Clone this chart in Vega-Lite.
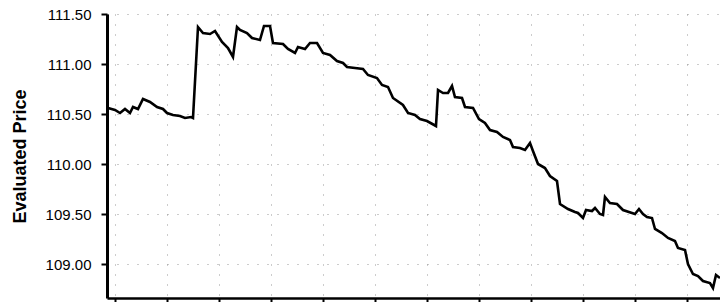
{
  "$schema": "https://vega.github.io/schema/vega-lite/v6.json",
  "autosize": "none",
  "width": 613,
  "height": 284,
  "padding": {"left": 107, "top": 14, "right": 0, "bottom": 4},
  "background": "white",
  "config": {
    "view": {"stroke": null},
    "axis": {"labelFont": "Liberation Sans", "titleFont": "Liberation Sans"}
  },
  "data": {
    "values": [
      {"d": -1.35, "p": 110.56}, {"d": 0, "p": 110.54}, {"d": 0.96, "p": 110.51}, {"d": 1.92, "p": 110.55},
      {"d": 2.88, "p": 110.51}, {"d": 3.46, "p": 110.57}, {"d": 4.42, "p": 110.55}, {"d": 5.38, "p": 110.65},
      {"d": 6.73, "p": 110.62}, {"d": 8.08, "p": 110.57}, {"d": 9.23, "p": 110.55}, {"d": 10, "p": 110.51},
      {"d": 11.15, "p": 110.49}, {"d": 12.5, "p": 110.48}, {"d": 13.46, "p": 110.46}, {"d": 14.62, "p": 110.47},
      {"d": 15, "p": 110.46}, {"d": 15.96, "p": 111.37}, {"d": 16.92, "p": 111.31}, {"d": 18.27, "p": 111.3},
      {"d": 19.23, "p": 111.33}, {"d": 20.58, "p": 111.22}, {"d": 21.73, "p": 111.16}, {"d": 22.69, "p": 111.07},
      {"d": 23.46, "p": 111.37}, {"d": 24.04, "p": 111.34}, {"d": 25.38, "p": 111.31}, {"d": 26.35, "p": 111.26},
      {"d": 27.88, "p": 111.24}, {"d": 28.65, "p": 111.38}, {"d": 29.81, "p": 111.38}, {"d": 30.38, "p": 111.21},
      {"d": 32.31, "p": 111.2}, {"d": 33.27, "p": 111.15}, {"d": 34.62, "p": 111.11}, {"d": 35.19, "p": 111.17},
      {"d": 36.54, "p": 111.15}, {"d": 37.5, "p": 111.21}, {"d": 38.85, "p": 111.21}, {"d": 40, "p": 111.11},
      {"d": 41.35, "p": 111.09}, {"d": 42.69, "p": 111.03}, {"d": 43.85, "p": 111.01}, {"d": 44.62, "p": 110.97},
      {"d": 46.15, "p": 110.96}, {"d": 47.69, "p": 110.95}, {"d": 48.65, "p": 110.89}, {"d": 50.38, "p": 110.86},
      {"d": 51.35, "p": 110.79}, {"d": 52.5, "p": 110.77}, {"d": 53.46, "p": 110.66}, {"d": 55.38, "p": 110.59},
      {"d": 56.35, "p": 110.51}, {"d": 57.69, "p": 110.49}, {"d": 58.65, "p": 110.45}, {"d": 60, "p": 110.43},
      {"d": 61.73, "p": 110.38}, {"d": 62.12, "p": 110.74}, {"d": 63.08, "p": 110.71}, {"d": 64.04, "p": 110.71},
      {"d": 64.81, "p": 110.78}, {"d": 65.38, "p": 110.67}, {"d": 66.73, "p": 110.66}, {"d": 67.31, "p": 110.57},
      {"d": 68.85, "p": 110.56}, {"d": 70, "p": 110.45}, {"d": 71.15, "p": 110.41}, {"d": 72.12, "p": 110.34},
      {"d": 73.46, "p": 110.32}, {"d": 74.62, "p": 110.27}, {"d": 75.96, "p": 110.24}, {"d": 76.54, "p": 110.17},
      {"d": 77.88, "p": 110.16}, {"d": 78.85, "p": 110.14}, {"d": 79.81, "p": 110.21}, {"d": 80.38, "p": 110.13},
      {"d": 81.35, "p": 110.0}, {"d": 82.69, "p": 109.96}, {"d": 83.65, "p": 109.88}, {"d": 85, "p": 109.83},
      {"d": 85.58, "p": 109.6}, {"d": 87.12, "p": 109.55}, {"d": 88.46, "p": 109.52}, {"d": 89.04, "p": 109.51},
      {"d": 90, "p": 109.46}, {"d": 90.58, "p": 109.54}, {"d": 91.73, "p": 109.53}, {"d": 92.31, "p": 109.56},
      {"d": 93.27, "p": 109.5}, {"d": 93.85, "p": 109.49}, {"d": 94.23, "p": 109.67}, {"d": 95.19, "p": 109.61},
      {"d": 96.54, "p": 109.6}, {"d": 97.69, "p": 109.54}, {"d": 99.42, "p": 109.51}, {"d": 100, "p": 109.5},
      {"d": 100.77, "p": 109.55}, {"d": 101.54, "p": 109.5}, {"d": 102.31, "p": 109.47}, {"d": 103.27, "p": 109.46},
      {"d": 103.85, "p": 109.35}, {"d": 105.19, "p": 109.31}, {"d": 106.35, "p": 109.26}, {"d": 107.69, "p": 109.23},
      {"d": 108.27, "p": 109.16}, {"d": 109.62, "p": 109.14}, {"d": 110.19, "p": 109.0}, {"d": 111.15, "p": 108.9},
      {"d": 112.12, "p": 108.88}, {"d": 113.08, "p": 108.83}, {"d": 114.42, "p": 108.81}, {"d": 115, "p": 108.76},
      {"d": 115.58, "p": 108.89}, {"d": 116.35, "p": 108.86}
    ]
  },
  "mark": {"type": "line", "color": "black", "strokeWidth": 2.6, "clip": true},
  "encoding": {
    "x": {
      "field": "d", "type": "quantitative",
      "scale": {"domain": [-1.54, 116.35], "nice": false, "zero": false},
      "axis": {
        "title": null, "labels": false, "values": [0,10,20,30,40,50,60,70,80,90,100,110],
        "domainColor": "black", "domainWidth": 2.5,
        "tickColor": "black", "tickWidth": 2, "tickSize": 5,
        "gridColor": "#999", "gridDash": [1, 9], "gridWidth": 1
      }
    },
    "y": {
      "field": "p", "type": "quantitative",
      "scale": {"domain": [108.66, 111.5], "nice": false, "zero": false},
      "axis": {
        "title": "Evaluated Price", "titleFontSize": 18, "titleFontWeight": "bold", "titleColor": "black",
        "titlePadding": 16,
        "values": [109, 109.5, 110, 110.5, 111, 111.5], "format": ".2f",
        "labelFontSize": 15, "labelColor": "black", "labelPadding": 10,
        "domainColor": "black", "domainWidth": 3,
        "tickColor": "black", "tickWidth": 2, "tickSize": 6,
        "gridColor": "#999", "gridDash": [1, 9], "gridWidth": 1
      }
    }
  }
}
